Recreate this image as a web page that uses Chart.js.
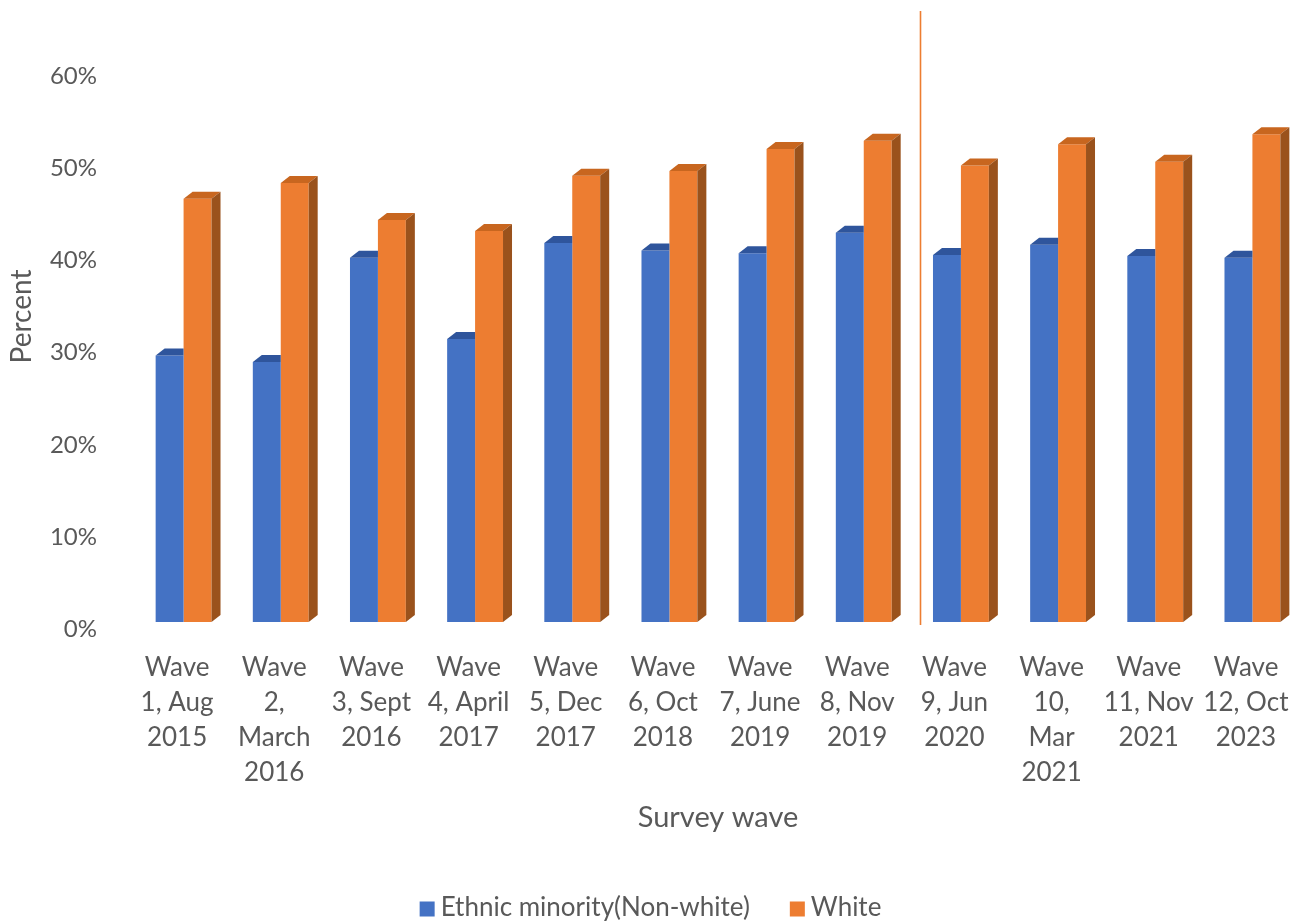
<!DOCTYPE html>
<html>
<head>
<meta charset="utf-8">
<script src="https://cdn.jsdelivr.net/npm/chart.js@4.4.1/dist/chart.umd.min.js"></script>
<style>
  html, body { margin: 0; padding: 0; background: #ffffff; }
  #wrap { width: 1301px; height: 922px; position: relative; }
</style>
</head>
<body>
<div id="wrap"><canvas id="c" width="1301" height="922"></canvas></div>
<script>
// Survey waves
const categories = [
  'Wave 1, Aug 2015', 'Wave 2, March 2016', 'Wave 3, Sept 2016', 'Wave 4, April 2017',
  'Wave 5, Dec 2017', 'Wave 6, Oct 2018', 'Wave 7, June 2019', 'Wave 8, Nov 2019',
  'Wave 9, Jun 2020', 'Wave 10, Mar 2021', 'Wave 11, Nov 2021', 'Wave 12, Oct 2023'
];
// Wrapped axis labels, one array of lines per wave
const tickLabels = [
  ['Wave', '1, Aug', '2015'], ['Wave', '2,', 'March', '2016'], ['Wave', '3, Sept', '2016'],
  ['Wave', '4, April', '2017'], ['Wave', '5, Dec', '2017'], ['Wave', '6, Oct', '2018'],
  ['Wave', '7, June', '2019'], ['Wave', '8, Nov', '2019'], ['Wave', '9, Jun', '2020'],
  ['Wave', '10,', 'Mar', '2021'], ['Wave', '11, Nov', '2021'], ['Wave', '12, Oct', '2023']
];
const seriesNames = ['Ethnic minority(Non-white)', 'White'];
const ethnicMinority = [0.289, 0.282, 0.395, 0.307, 0.411, 0.403, 0.400, 0.422, 0.398, 0.409, 0.397, 0.395];
const white = [0.459, 0.476, 0.436, 0.424, 0.484, 0.489, 0.513, 0.522, 0.495, 0.518, 0.499, 0.529];
const yTickValues = [0, 0.1, 0.2, 0.3, 0.4, 0.5, 0.6];
// The vertical marker sits between these two waves
const dividerAfter = 7;

const FONT = 'Lato, "Noto Sans", sans-serif';
const TEXT = '#595959';
const DEPTH_X = 9, DEPTH_Y = 7;

const faceColors = [
  { front: '#4472C4', top: '#2F559C', side: '#2B4E8F' },
  { front: '#ED7D31', top: '#C8661F', side: '#9A521C' }
];

// Extruded look: top and side faces added from each bar element's geometry
const depthPlugin = {
  id: 'depth',
  afterDatasetsDraw(chart) {
    const ctx = chart.ctx;
    const n = chart.data.datasets.length;
    ctx.save();
    chart.data.datasets.forEach((ds, di) => {
      const meta = chart.getDatasetMeta(di);
      const col = faceColors[di];
      meta.data.forEach((bar) => {
        const p = bar.getProps(['x', 'y', 'base', 'width'], true);
        const l = p.x - p.width / 2, r = p.x + p.width / 2, t = p.y, b = p.base;
        const last = di === n - 1;
        // top face
        ctx.fillStyle = col.top;
        ctx.beginPath();
        ctx.moveTo(l, t);
        ctx.lineTo(r, t);
        if (last) {
          ctx.lineTo(r + DEPTH_X, t - DEPTH_Y);
        } else {
          ctx.lineTo(r, t - DEPTH_Y);
        }
        ctx.lineTo(l + DEPTH_X, t - DEPTH_Y);
        ctx.closePath();
        ctx.fill();
        // side face, only visible on the right-most bar of a group
        if (last) {
          ctx.fillStyle = col.side;
          ctx.beginPath();
          ctx.moveTo(r, t);
          ctx.lineTo(r + DEPTH_X, t - DEPTH_Y);
          ctx.lineTo(r + DEPTH_X, b - DEPTH_Y);
          ctx.lineTo(r, b);
          ctx.closePath();
          ctx.fill();
        }
      });
    });
    ctx.restore();
  }
};

// Vertical marker line between two waves
const dividerPlugin = {
  id: 'divider',
  afterDatasetsDraw(chart) {
    const n = chart.data.datasets.length;
    const a = chart.getDatasetMeta(n - 1).data[dividerAfter].getProps(['x', 'width'], true);
    const b = chart.getDatasetMeta(0).data[dividerAfter + 1].getProps(['x', 'width'], true);
    const x = Math.round(((a.x + a.width / 2 + DEPTH_X) + (b.x - b.width / 2)) / 2) + 3.5;
    const ctx = chart.ctx;
    ctx.save();
    ctx.strokeStyle = '#ED7D31';
    ctx.lineWidth = 1.6;
    ctx.beginPath();
    ctx.moveTo(x, chart.chartArea.top);
    ctx.lineTo(x, chart.chartArea.bottom + 3);
    ctx.stroke();
    ctx.restore();
  }
};

// Legend row under the axis title
const legendPlugin = {
  id: 'bottomLegend',
  afterDraw(chart) {
    const ctx = chart.ctx;
    ctx.save();
    ctx.font = '26px ' + FONT;
    ctx.textBaseline = 'middle';
    const box = 15, boxGap = 6, itemGap = 40, cy = 908;
    const widths = chart.data.datasets.map(d => ctx.measureText(d.label).width);
    let total = 0;
    widths.forEach((w, i) => { total += box + boxGap + w + (i < widths.length - 1 ? itemGap : 0); });
    let x = (chart.width - total) / 2;
    chart.data.datasets.forEach((d, i) => {
      ctx.fillStyle = d.backgroundColor;
      ctx.fillRect(x, cy - box / 2 + 1, box, box);
      x += box + boxGap;
      ctx.fillStyle = TEXT;
      ctx.textAlign = 'left';
      ctx.fillText(d.label, x, cy);
      x += widths[i] + itemGap;
    });
    ctx.restore();
  }
};

new Chart(document.getElementById('c'), {
  type: 'bar',
  data: {
    labels: categories,
    datasets: [
      { label: seriesNames[0], data: ethnicMinority, backgroundColor: faceColors[0].front, borderWidth: 0 },
      { label: seriesNames[1], data: white, backgroundColor: faceColors[1].front, borderWidth: 0 }
    ]
  },
  options: {
    responsive: false,
    animation: false,
    events: [],
    layout: { padding: { top: 11, right: -3, bottom: 85, left: 0 } },
    datasets: { bar: { categoryPercentage: 0.575, barPercentage: 1.0 } },
    plugins: { legend: { display: false }, tooltip: { enabled: false } },
    scales: {
      x: {
        grid: { display: false, drawTicks: false },
        border: { display: false },
        ticks: {
          color: TEXT,
          font: { family: FONT, size: 26, lineHeight: 1.345 },
          padding: 28,
          labelOffset: -6.5,
          maxRotation: 0,
          autoSkip: false,
          callback: (v, i) => tickLabels[i]
        },
        title: {
          display: true, text: 'Survey wave', color: TEXT,
          font: { family: FONT, size: 29, lineHeight: 1.2 },
          padding: { top: 0, bottom: 2 }
        },
        afterFit(scale) {
          scale.height = 215;
          scale.paddingLeft = 0; scale.paddingRight = 0;
        }
      },
      y: {
        min: 0,
        max: 0.6626,
        grid: { display: false, drawTicks: false },
        border: { display: false },
        afterBuildTicks(scale) { scale.ticks = yTickValues.map(v => ({ value: v })); },
        ticks: {
          color: TEXT,
          font: { family: FONT, size: 24 },
          padding: 38,
          labelOffset: 7.3,
          callback: (v) => Math.round(v * 100) + '%'
        },
        title: {
          display: true, text: 'Percent', color: TEXT,
          font: { family: FONT, size: 28, lineHeight: 1.2 },
          padding: { top: 5, bottom: 0 }
        },
        afterFit(scale) {
          scale.width = 135;
          scale.paddingTop = 0; scale.paddingBottom = 0;
        }
      }
    }
  },
  plugins: [depthPlugin, dividerPlugin, legendPlugin]
});
</script>
</body>
</html>
